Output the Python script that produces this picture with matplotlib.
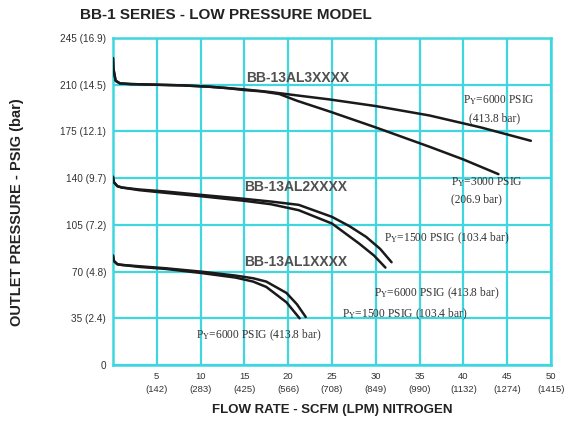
import matplotlib
matplotlib.use("Agg")
import matplotlib.pyplot as plt

# Axis ticks
x_ticks = [5, 10, 15, 20, 25, 30, 35, 40, 45, 50]
x_tick_labels = ["5\n(142)", "10\n(283)", "15\n(425)", "20\n(566)", "25\n(708)",
                 "30\n(849)", "35\n(990)", "40\n(1132)", "45\n(1274)", "50\n(1415)"]
y_ticks = [0, 35, 70, 105, 140, 175, 210, 245]
y_tick_labels = ["0", "35 (2.4)", "70 (4.8)", "105 (7.2)", "140 (9.7)",
                 "175 (12.1)", "210 (14.5)", "245 (16.9)"]

# BB-13AL3XXXX (flow SCFM, outlet PSIG)
al3_6000_x = [0, 0.05, 0.3, 0.8, 2, 5, 8, 11, 13, 15, 18, 21, 24.7, 30, 36.1, 42, 47.7]
al3_6000_y = [230, 222, 213, 211, 210.5, 210, 209.5, 208.5, 207.5, 206.5, 204.5, 202, 199, 194, 187, 178, 168]
al3_3000_x = [0, 0.05, 0.3, 0.8, 2, 5, 8, 11, 13, 15, 17, 19, 21, 24.7, 30, 36.1, 40, 44]
al3_3000_y = [230, 222, 213, 211, 210.5, 210, 209.5, 208.5, 207.5, 206, 205, 203, 198, 190, 178, 163.6, 154, 143]

# BB-13AL2XXXX
al2_1500_x = [0, 0.1, 0.5, 1, 3, 6, 10, 15, 18, 21.2, 25, 27, 28.9, 30.5, 31.8]
al2_1500_y = [141, 137, 134, 133, 131.5, 130, 127.5, 124.5, 122.5, 120, 111, 104, 96, 87, 77]
al2_6000_x = [0, 0.1, 0.5, 1, 3, 6, 10, 15, 18, 21.2, 25, 28.1, 29.8, 31.1]
al2_6000_y = [141, 137, 134, 133, 131, 129, 126.5, 123, 120.5, 116, 106, 91, 82, 73]

# BB-13AL1XXXX
al1_1500_x = [0, 0.1, 0.5, 1, 3, 6, 10, 14, 16, 17.5, 19.8, 21, 22]
al1_1500_y = [82, 78, 75.5, 75, 74, 72.5, 70, 67, 65, 62.5, 54, 45.5, 36]
al1_6000_x = [0, 0.1, 0.5, 1, 3, 6, 10, 14, 16, 17.5, 19.8, 21.3]
al1_6000_y = [82, 78, 75.5, 75, 73.5, 72, 69, 65.5, 62.5, 58.5, 47, 35]

grid_color = "#3fd6e0"
curve_color = "#1a1a1a"
text_gray = "#333333"

plt.rcParams["mathtext.fontset"] = "stix"

fig = plt.figure(figsize=(5.66, 4.21), dpi=100)
ax = fig.add_axes([0.1996, 0.133, 0.7739, 0.7767])
ax.set_xlim(0, 50)
ax.set_ylim(0, 245)

ax.set_xticks(x_ticks)
ax.set_xticklabels(x_tick_labels, fontsize=6.8, color=text_gray, family="Liberation Sans",
                   linespacing=1.6)
ax.set_yticks(y_ticks)
ax.set_yticklabels(y_tick_labels, fontsize=7.2, color=text_gray, family="Liberation Sans")
ax.tick_params(length=0, pad=5)
ax.grid(True, color=grid_color, linewidth=1.6)
ax.set_axisbelow(True)
for sp in ax.spines.values():
    sp.set_color(grid_color)
    sp.set_linewidth(1.8)

for xs, ys in [(al3_6000_x, al3_6000_y), (al3_3000_x, al3_3000_y),
               (al2_1500_x, al2_1500_y), (al2_6000_x, al2_6000_y),
               (al1_1500_x, al1_1500_y), (al1_6000_x, al1_6000_y)]:
    ax.plot(xs, ys, color=curve_color, linewidth=1.8, solid_capstyle="round",
            solid_joinstyle="round", zorder=3)

# Model labels
model_kw = dict(fontsize=10, color="#505050", family="Liberation Sans", fontweight="bold",
                ha="left", va="center", zorder=4)
ax.text(15.2, 215, "BB-13AL3XXXX", **model_kw)
ax.text(15.0, 133.5, "BB-13AL2XXXX", **model_kw)
ax.text(15.0, 77, "BB-13AL1XXXX", **model_kw)

# Inlet pressure notes
note_kw = dict(fontsize=8.3, color=text_gray, family="Liberation Serif", va="center", zorder=4)
ax.text(40.0, 198, "P$_\\mathrm{Y}$=6000 PSIG", ha="left", **note_kw)
ax.text(40.6, 185, "(413.8 bar)", ha="left", **note_kw)
ax.text(38.6, 137, "P$_\\mathrm{Y}$=3000 PSIG", ha="left", **note_kw)
ax.text(38.6, 124, "(206.9 bar)", ha="left", **note_kw)
ax.text(30.9, 95, "P$_\\mathrm{Y}$=1500 PSIG (103.4 bar)", ha="left", **note_kw)
ax.text(29.8, 53.5, "P$_\\mathrm{Y}$=6000 PSIG (413.8 bar)", ha="left", **note_kw)
ax.text(26.1, 38, "P$_\\mathrm{Y}$=1500 PSIG (103.4 bar)", ha="left", **note_kw)
ax.text(9.5, 22, "P$_\\mathrm{Y}$=6000 PSIG (413.8 bar)", ha="left", **note_kw)

# Titles
fig.text(80 / 566, 1 - 15 / 421, "BB-1 SERIES - LOW PRESSURE MODEL", fontsize=11,
         fontweight="bold", family="Liberation Sans", color="#222222", ha="left", va="center")
fig.text(332 / 566, 1 - 410 / 421, "FLOW RATE - SCFM (LPM) NITROGEN", fontsize=9.5,
         fontweight="bold", family="Liberation Sans", color="#222222", ha="center", va="center")
fig.text(17 / 566, 1 - 212 / 421, "OUTLET PRESSURE - PSIG (bar)", fontsize=10.5,
         fontweight="bold", family="Liberation Sans", color="#222222", ha="center", va="center",
         rotation=90)

fig.savefig("out.png", dpi=100)
